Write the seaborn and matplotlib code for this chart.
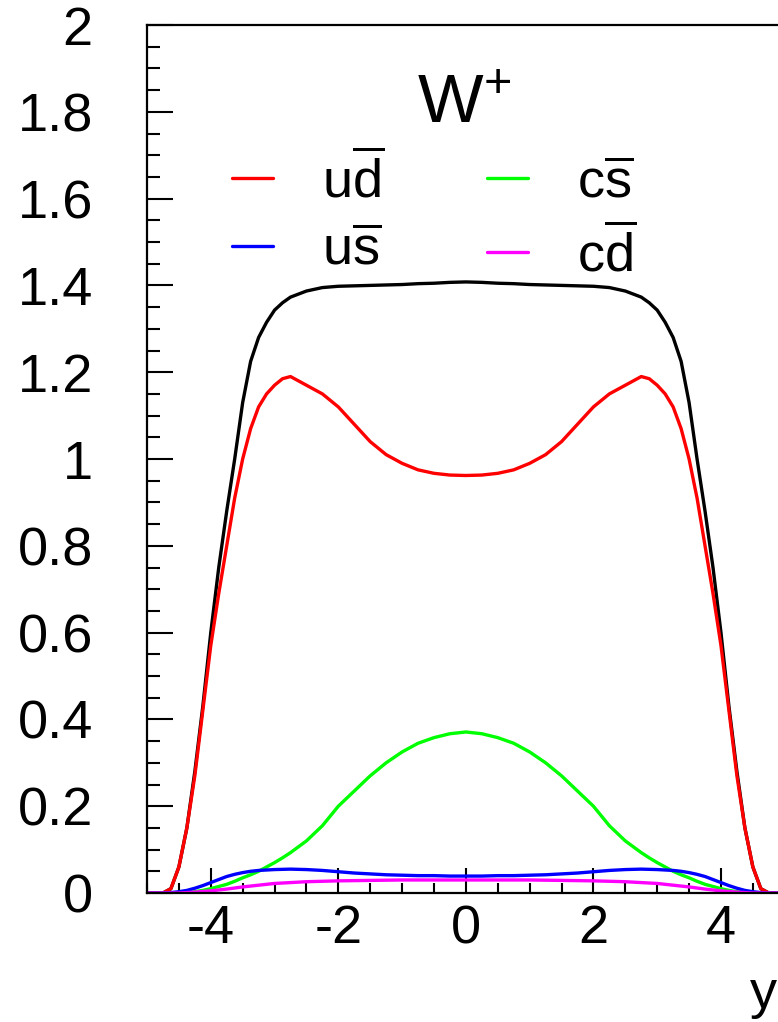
import numpy as np
import matplotlib
matplotlib.use("Agg")
import matplotlib.pyplot as plt
import seaborn as sns

rap = [-5.0, -4.75, -4.625, -4.5, -4.375, -4.25, -4.125, -4.0, -3.875, -3.75,
       -3.625, -3.5, -3.375, -3.25, -3.125, -3.0, -2.875, -2.75,
       -2.5, -2.25, -2.0, -1.75, -1.5, -1.25, -1.0, -0.75, -0.5, -0.25,
       0.0, 0.25, 0.5, 0.75, 1.0, 1.25, 1.5, 1.75, 2.0, 2.25, 2.5,
       2.75, 2.875, 3.0, 3.125, 3.25, 3.375, 3.5, 3.625,
       3.75, 3.875, 4.0, 4.125, 4.25, 4.375, 4.5, 4.625, 4.75, 5.0]

total = [0.0, 0.0, 0.01, 0.06, 0.15, 0.28, 0.43, 0.60, 0.75, 0.88,
         1.0, 1.13, 1.225, 1.28, 1.315, 1.343, 1.36, 1.373,
         1.387, 1.395, 1.398, 1.399, 1.400, 1.401, 1.402, 1.404, 1.405, 1.407,
         1.408, 1.407, 1.405, 1.404, 1.402, 1.401, 1.400, 1.399, 1.398, 1.395, 1.387,
         1.373, 1.36, 1.343, 1.315, 1.28, 1.225, 1.13, 1.0,
         0.88, 0.75, 0.60, 0.43, 0.28, 0.15, 0.06, 0.01, 0.0, 0.0]

u_dbar = [0.0, 0.0, 0.01, 0.06, 0.15, 0.27, 0.42, 0.57, 0.69, 0.80,
          0.91, 1.00, 1.07, 1.12, 1.15, 1.17, 1.185, 1.19,
          1.17, 1.15, 1.12, 1.08, 1.04, 1.01, 0.99, 0.975, 0.967, 0.963,
          0.962, 0.963, 0.967, 0.975, 0.99, 1.01, 1.04, 1.08, 1.12, 1.15, 1.17,
          1.19, 1.185, 1.17, 1.15, 1.12, 1.07, 1.00, 0.91,
          0.80, 0.69, 0.57, 0.42, 0.27, 0.15, 0.06, 0.01, 0.0, 0.0]

c_sbar = [0.0, 0.0, 0.0, 0.0, 0.001, 0.003, 0.006, 0.01, 0.015, 0.02,
          0.027, 0.035, 0.042, 0.05, 0.06, 0.07, 0.081, 0.093,
          0.12, 0.155, 0.20, 0.235, 0.27, 0.30, 0.325, 0.345, 0.358, 0.367,
          0.371, 0.367, 0.358, 0.345, 0.325, 0.30, 0.27, 0.235, 0.20, 0.155, 0.12,
          0.093, 0.081, 0.07, 0.06, 0.05, 0.042, 0.035, 0.027,
          0.02, 0.015, 0.01, 0.006, 0.003, 0.001, 0.0, 0.0, 0.0, 0.0]

u_sbar = [0.0, 0.0, 0.001, 0.003, 0.006, 0.011, 0.017, 0.024, 0.031, 0.038,
          0.043, 0.047, 0.050, 0.052, 0.053, 0.054, 0.0545, 0.055,
          0.054, 0.052, 0.049, 0.046, 0.044, 0.042, 0.041, 0.040, 0.040, 0.039,
          0.039, 0.039, 0.040, 0.040, 0.041, 0.042, 0.044, 0.046, 0.049, 0.052, 0.054,
          0.055, 0.0545, 0.054, 0.053, 0.052, 0.050, 0.047, 0.043,
          0.038, 0.031, 0.024, 0.017, 0.011, 0.006, 0.003, 0.001, 0.0, 0.0]

c_dbar = [0.0, 0.0, 0.0, 0.0, 0.001, 0.002, 0.0035, 0.005, 0.007, 0.009,
          0.0115, 0.014, 0.016, 0.018, 0.020, 0.022, 0.023, 0.024,
          0.026, 0.027, 0.028, 0.0285, 0.029, 0.0295, 0.030, 0.030, 0.030, 0.030,
          0.030, 0.030, 0.030, 0.030, 0.030, 0.0295, 0.029, 0.0285, 0.028, 0.027, 0.026,
          0.024, 0.023, 0.022, 0.020, 0.018, 0.016, 0.014, 0.0115,
          0.009, 0.007, 0.005, 0.0035, 0.002, 0.001, 0.0, 0.0, 0.0, 0.0]

series = [
    (total, "black", None),
    (u_dbar, "#ff0000", r"u$\overline{\mathrm{d}}$"),
    (c_sbar, "#00ff00", r"c$\overline{\mathrm{s}}$"),
    (u_sbar, "#0000ff", r"u$\overline{\mathrm{s}}$"),
    (c_dbar, "#ff00ff", r"c$\overline{\mathrm{d}}$"),
]
legend_order = [r"u$\overline{\mathrm{d}}$", r"u$\overline{\mathrm{s}}$",
                r"c$\overline{\mathrm{s}}$", r"c$\overline{\mathrm{d}}$"]

sns.set_style("white")
plt.rcParams["font.family"] = ["Liberation Sans", "DejaVu Sans"]
plt.rcParams["text.color"] = "black"
plt.rcParams["mathtext.fontset"] = "custom"
plt.rcParams["mathtext.rm"] = "Liberation Sans"
plt.rcParams["mathtext.it"] = "Liberation Sans"
plt.rcParams["mathtext.default"] = "regular"

fig = plt.figure(figsize=(7.78, 10.22), dpi=100)
ax = fig.add_axes([147 / 778, 1 - 893 / 1022, 637.75 / 778, 868 / 1022])

handles = {}
for vals, col, lab in series:
    sns.lineplot(x=rap, y=vals, ax=ax, color=col, linewidth=2.4)
    if lab is not None:
        handles[lab] = ax.lines[-1]

ax.set_xlim(-5, 5)
ax.set_ylim(0, 2)

ax.set_xticks([-4, -2, 0, 2, 4])
ax.set_xticklabels(["-4", "-2", "0", "2", "4"])
ax.set_xticks(np.arange(-5, 5.01, 0.5), minor=True)
ax.set_yticks(np.arange(0, 2.01, 0.2))
ax.set_yticklabels(["0", "0.2", "0.4", "0.6", "0.8", "1", "1.2", "1.4",
                    "1.6", "1.8", "2"])
ax.set_yticks(np.arange(0, 2.01, 0.05), minor=True)

# seaborn's white style switches the ticks off; ROOT draws them inside
ax.tick_params(axis="both", which="both", direction="in", width=1.5,
               colors="black", labelsize=39, left=True, bottom=True,
               top=False, right=False)
ax.tick_params(axis="y", which="major", length=19, pad=39)
ax.tick_params(axis="y", which="minor", length=9.5)
ax.tick_params(axis="x", which="major", length=18, pad=8)
ax.tick_params(axis="x", which="minor", length=7.5)
for s in ax.spines.values():
    s.set_color("black")
    s.set_linewidth(1.6)

ax.legend([handles[l] for l in legend_order], legend_order, ncol=2,
          loc="upper left",
          bbox_to_anchor=((232 - 147) / 637.75, (893 - 152) / 868),
          frameon=False, fontsize=39, handlelength=0.76, handletextpad=0.9,
          columnspacing=1.9, labelspacing=0.32, borderpad=0, borderaxespad=0)

fig.text(417 / 778, 1 - 123 / 1022, r"W$^{+}$", fontsize=50,
         ha="left", va="baseline")
fig.text(777 / 778, 1 - 1008 / 1022, "y", fontsize=39,
         ha="right", va="baseline")

fig.savefig("out.png", dpi=100)
